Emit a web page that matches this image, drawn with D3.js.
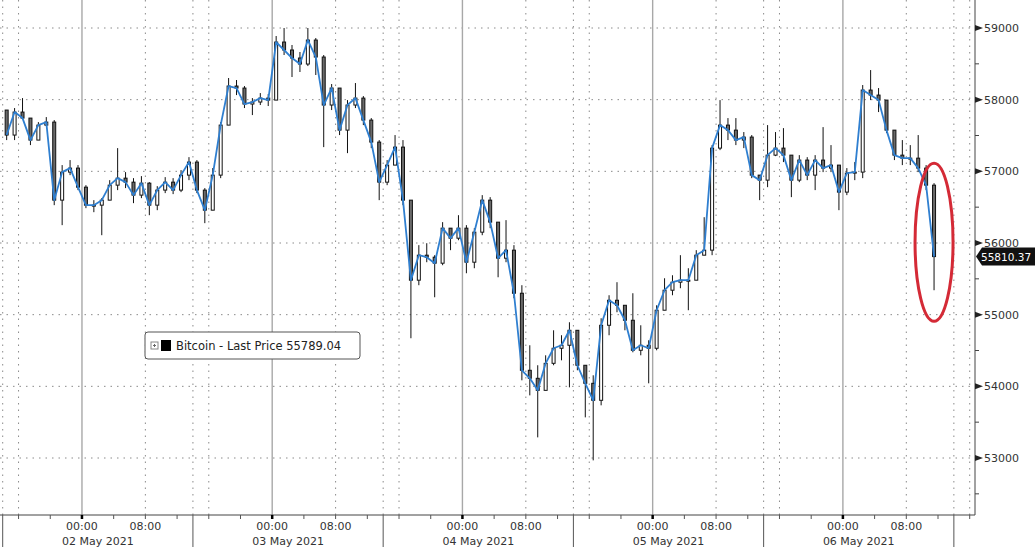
<!DOCTYPE html>
<html>
<head>
<meta charset="utf-8">
<script src="https://cdn.jsdelivr.net/npm/d3@7"></script>
<style>
  body { margin: 0; background: #fff; }
  svg { display: block; font-family: "DejaVu Sans", Verdana, sans-serif; }
</style>
</head>
<body>
<svg id="chart" width="1035" height="547"></svg>
<script>
// Bitcoin hourly bars, first bar starts 01 May 2021 14:00
const startTime = Date.UTC(2021, 4, 1, 14);
const firstOpen = 57855;

const closes = [
  57506, 57827, 57743, 57436, 57645, 57687, 56598, 56989, 57045, 56779,
  56528, 56528, 56598, 56807, 56905, 56849, 56668, 56835, 56528, 56738,
  56849, 56738, 56947, 57129, 56738, 56458, 56947, 57645, 58190, 58162,
  57939, 57967, 58022, 57994, 58804, 58693, 58581, 58497, 58832, 58595,
  57925, 58162, 57575, 57925, 58022, 57715, 57408, 56849, 57087, 57338,
  56598, 55481, 55830, 55802, 55718, 56207, 56067, 56207, 55732, 56151,
  56598, 56291, 55788, 55900, 55299, 54224, 54112, 53944, 54321, 54531,
  54573, 54782, 54294, 54042, 53805, 54852, 55201, 55131, 54922, 54503,
  54573, 54531, 55062, 55341, 55453, 55481, 55481, 55830, 55900, 57324,
  57645, 57575, 57436, 57478, 56947, 56877, 57226, 57324, 57226, 56877,
  57157, 56947, 57157, 57045, 57087, 56710, 56975, 56989, 58134, 58064,
  57994, 57575, 57226, 57184, 57184, 57045, 56807, 55810.37
];
const highs = [
  57855, 57883, 58022, 57743, 57687, 57757, 57715, 57087, 57157, 57087,
  56807, 56598, 56626, 56877, 57324, 56989, 56905, 56933, 56849, 56793,
  56919, 56905, 57017, 57198, 57157, 56766, 57045, 57687, 58302, 58274,
  58190, 58022, 58092, 58078, 58888, 59000, 58763, 58665, 59000, 58860,
  58623, 58218, 58162, 57994, 58232, 58050, 57743, 57436, 57157, 57506,
  57436, 56598, 55970, 55997, 55830, 56291, 56179, 56388, 56249, 56207,
  56668, 56640, 56291, 56319, 55970, 55411, 54573, 54294, 54433, 54782,
  54713, 54894, 54782, 54252, 54154, 54950, 55271, 55453, 55062, 55299,
  54852, 54643, 55131, 55508, 55550, 55830, 55648, 55900, 56360, 57366,
  57994, 57743, 57743, 57548, 57506, 56947, 57645, 57548, 57603, 57226,
  57226, 57198, 57226, 57617, 57366, 57087, 57045, 57129, 58204, 58413,
  58162, 57925, 57548, 57436, 57366, 57506, 57087, 56835
];
const lows = [
  57436, 57436, 57743, 57366, 57436, 57631, 56528, 56249, 56947, 56738,
  56486, 56430, 56109, 56598, 56738, 56766, 56556, 56626, 56388, 56458,
  56696, 56682, 56710, 56877, 56696, 56277, 56458, 56905, 57645, 58064,
  57883, 57785, 57925, 57911, 57994, 58623, 58316, 58386, 58469, 58344,
  57338, 57855, 57506, 57254, 57883, 57645, 57324, 56598, 56807, 57087,
  56528, 54671, 55411, 55732, 55243, 55690, 55900, 56039, 55578, 55648,
  56109, 56207, 55522, 55732, 55229, 54084, 53874, 53288, 54014, 54294,
  54363, 53986, 54224, 53567, 52967, 53735, 54713, 55034, 54782, 54475,
  54433, 54042, 54503, 55131, 55271, 55369, 55062, 55508, 55830, 55830,
  57296, 57436, 57366, 57324, 56905, 56598, 56779, 57212, 57129, 56640,
  56849, 56877, 56738, 56989, 56989, 56458, 56668, 56877, 56905, 57994,
  57827, 57534, 57157, 57087, 57087, 56989, 56738, 55341
];

const priceTicks = [53000, 54000, 55000, 56000, 57000, 58000, 59000];
const minorPriceTicks = [52500, 53500, 54500, 55500, 56500, 57500, 58500];
const dayLabels = ["02 May 2021", "03 May 2021", "04 May 2021", "05 May 2021", "06 May 2021"];
const timeLabels = ["00:00", "08:00"];
const seriesName = "Bitcoin - Last Price";
const legendPrice = 55789.04;
const tagPrice = 55810.37;

const HOUR = 3600e3;

// ----------------------------------------------------------
// scales
// ----------------------------------------------------------
const svg = d3.select("#chart");
const plotRight = 975, plotBottom = 515;

const x = d3.scaleUtc()
  .domain([new Date(startTime), new Date(Date.UTC(2021, 4, 6, 16, 40))])
  .range([2.7, plotRight]);

const y = d3.scaleLinear()
  .domain([53000, 59000])
  .range([458, 28]);

const bars = closes.map((c, i) => ({
  t: new Date(startTime + i * HOUR),
  o: i ? closes[i - 1] : firstOpen,
  c: c,
  h: highs[i],
  l: lows[i]
}));

// ----------------------------------------------------------
// grid
// ----------------------------------------------------------
const grid = svg.append("g");

grid.selectAll("line.h")
  .data(priceTicks)
  .join("line")
  .attr("x1", 0).attr("x2", plotRight)
  .attr("y1", d => y(d)).attr("y2", d => y(d))
  .attr("stroke", "#8a8a8a")
  .attr("stroke-dasharray", "1.5,5");

// every hour from the first bar up to the end of the axis
const hourMarks = d3.utcHour.range(new Date(startTime), x.domain()[1]);
const dottedHours = hourMarks.filter(d => [8, 14, 16].includes(d.getUTCHours()));
const midnights = hourMarks.filter(d => d.getUTCHours() === 0);
const separators = hourMarks.filter(d => d.getUTCHours() === 14);

grid.selectAll("line.v")
  .data(dottedHours)
  .join("line")
  .attr("x1", d => x(d)).attr("x2", d => x(d))
  .attr("y1", 0).attr("y2", plotBottom)
  .attr("stroke", "#8a8a8a")
  .attr("stroke-dasharray", "1.5,5");

grid.selectAll("line.m")
  .data(midnights)
  .join("line")
  .attr("x1", d => x(d)).attr("x2", d => x(d))
  .attr("y1", 0).attr("y2", plotBottom)
  .attr("stroke", "#a8a8a8")
  .attr("stroke-width", 1.4);

// ----------------------------------------------------------
// candles + close line
// ----------------------------------------------------------
const cw = 3;
const candles = svg.append("g");
const cx = d => x(new Date(+d.t + HOUR / 2));

candles.selectAll("line")
  .data(bars)
  .join("line")
  .attr("x1", cx).attr("x2", cx)
  .attr("y1", d => y(Math.max(d.h, d.o, d.c)))
  .attr("y2", d => y(Math.min(d.l, d.o, d.c)))
  .attr("stroke", "#111")
  .attr("stroke-width", 1);

candles.selectAll("rect")
  .data(bars)
  .join("rect")
  .attr("x", d => cx(d) - cw / 2)
  .attr("width", cw)
  .attr("y", d => y(Math.max(d.o, d.c)))
  .attr("height", d => Math.max(1, Math.abs(y(d.o) - y(d.c))))
  .attr("fill", d => d.c >= d.o ? "#fff" : "#6a6a6a")
  .attr("stroke", "#111")
  .attr("stroke-width", 1);

const line = d3.line()
  .x(cx)
  .y(d => y(d.c));

svg.append("path")
  .datum(bars)
  .attr("d", line)
  .attr("fill", "none")
  .attr("stroke", "#2f7fd0")
  .attr("stroke-width", 1.8)
  .attr("stroke-linejoin", "round");

// ----------------------------------------------------------
// axes
// ----------------------------------------------------------
const axisColor = "#444";

// right axis
svg.append("line")
  .attr("x1", plotRight).attr("x2", plotRight)
  .attr("y1", 0).attr("y2", plotBottom)
  .attr("stroke", axisColor);

const yAxis = svg.append("g");
yAxis.selectAll("path")
  .data(priceTicks)
  .join("path")
  .attr("d", d => `M${plotRight},${y(d) - 3}L${plotRight + 8},${y(d)}L${plotRight},${y(d) + 3}Z`)
  .attr("fill", "#222");
yAxis.selectAll("line")
  .data(minorPriceTicks)
  .join("line")
  .attr("x1", plotRight).attr("x2", plotRight + 4)
  .attr("y1", d => y(d)).attr("y2", d => y(d))
  .attr("stroke", axisColor);
yAxis.selectAll("text")
  .data(priceTicks)
  .join("text")
  .attr("x", plotRight + 9)
  .attr("y", d => y(d) + 4)
  .attr("font-size", 11)
  .attr("fill", "#333")
  .text(d => d);

// price tag
const ty = y(tagPrice);
svg.append("path")
  .attr("d", `M${plotRight + 1},${ty}L${plotRight + 7},${ty - 9}H1035V${ty + 9}H${plotRight + 7}Z`)
  .attr("fill", "#111");
svg.append("text")
  .attr("x", plotRight + 6)
  .attr("y", ty + 4)
  .attr("font-size", 10.5)
  .attr("fill", "#fff")
  .text(tagPrice.toFixed(2));

// bottom axis
svg.append("line")
  .attr("x1", 0).attr("x2", plotRight)
  .attr("y1", plotBottom).attr("y2", plotBottom)
  .attr("stroke", axisColor);

const tickTimes = hourMarks.filter(d => d.getUTCHours() % 4 === 0);
svg.append("g").selectAll("line")
  .data(tickTimes)
  .join("line")
  .attr("x1", d => x(d)).attr("x2", d => x(d))
  .attr("y1", plotBottom).attr("y2", plotBottom + 4)
  .attr("stroke", d => d.getUTCHours() === 0 ? "#000" : "#555")
  .attr("stroke-width", d => d.getUTCHours() === 0 ? 2.5 : 1);

const labelTimes = hourMarks.filter(d => [0, 8].includes(d.getUTCHours()));
svg.append("g").selectAll("text")
  .data(labelTimes)
  .join("text")
  .attr("x", d => x(d))
  .attr("y", 530)
  .attr("text-anchor", "middle")
  .attr("font-size", 11)
  .attr("fill", "#333")
  .text(d => timeLabels[d.getUTCHours() === 0 ? 0 : 1]);

svg.append("g").selectAll("line")
  .data(separators)
  .join("line")
  .attr("x1", d => x(d)).attr("x2", d => x(d))
  .attr("y1", plotBottom).attr("y2", 547)
  .attr("stroke", "#555");

svg.append("g").selectAll("text")
  .data(dayLabels)
  .join("text")
  .attr("x", (d, i) => (x(separators[i]) + x(separators[i + 1])) / 2)
  .attr("y", 545)
  .attr("text-anchor", "middle")
  .attr("font-size", 11)
  .attr("fill", "#333")
  .text(d => d);

// ----------------------------------------------------------
// legend
// ----------------------------------------------------------
const legend = svg.append("g").attr("transform", "translate(145,332)");
legend.append("rect")
  .attr("width", 215).attr("height", 27)
  .attr("rx", 3)
  .attr("fill", "#fff")
  .attr("stroke", "#555");
legend.append("rect")
  .attr("x", 6).attr("y", 10).attr("width", 7).attr("height", 7)
  .attr("fill", "#fff").attr("stroke", "#888");
legend.append("path")
  .attr("d", "M8,13.5H11M9.5,12V15")
  .attr("stroke", "#666");
legend.append("rect")
  .attr("x", 16).attr("y", 8).attr("width", 10).attr("height", 11)
  .attr("fill", "#000");
legend.append("text")
  .attr("x", 31).attr("y", 18)
  .attr("font-size", 11.5)
  .attr("fill", "#222")
  .text(`${seriesName} ${legendPrice.toFixed(2)}`);

// ----------------------------------------------------------
// annotation
// ----------------------------------------------------------
svg.append("ellipse")
  .attr("cx", x(new Date(Date.UTC(2021, 4, 6, 11, 30))))
  .attr("cy", y(56010))
  .attr("rx", 19).attr("ry", 79)
  .attr("fill", "none")
  .attr("stroke", "#d42a36")
  .attr("stroke-width", 3);
</script>
</body>
</html>
